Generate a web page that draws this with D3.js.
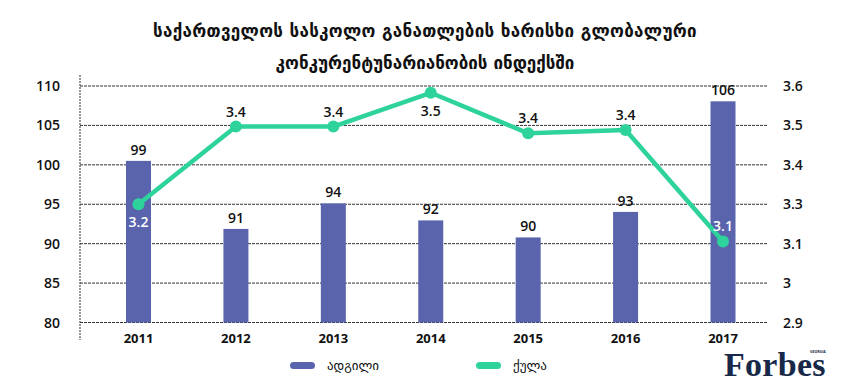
<!DOCTYPE html>
<meta charset="utf-8">
<script src="https://d3js.org/d3.v7.min.js"></script>
<style>
  body { margin: 0; background: #fff; }
  text { font-family: 'Open Sans', 'DejaVu Sans', sans-serif; }
  .geo { font-family: 'DejaVu Sans', sans-serif; }
</style>
<div id="chart"></div>
<script>
  // data
  const years = ["2011", "2012", "2013", "2014", "2015", "2016", "2017"];
  const rank = [99, 91, 94, 92, 90, 93, 106];               // ადგილი (bars)
  const score = [3.25, 3.48, 3.48, 3.58, 3.46, 3.47, 3.14];  // ქულა (line)
  const scoreLabels = ["3.2", "3.4", "3.4", "3.5", "3.4", "3.4", "3.1"];
  const leftTicks = ["110", "105", "100", "95", "90", "85", "80"];
  const rightTicks = ["3.6", "3.5", "3.4", "3.3", "3.1", "3", "2.9"];
  const titleLines = ["საქართველოს სასკოლო განათლების ხარისხი გლობალური",
                      "კონკურენტუნარიანობის ინდექსში"];
  const legendNames = ["ადგილი", "ქულა"];

  const W = 850, H = 387;
  const barColor = "#5a64ad", lineColor = "#2ed39c";
  const plotTop = 86, plotBottom = 322.5, gridX0 = 80, gridX1 = 767;

  const svg = d3.select("#chart").append("svg")
      .attr("width", W).attr("height", H);

  // scales
  const x = d3.scalePoint().domain(years).range([138.5, 723]);
  const yL = d3.scaleLinear().domain([80, 107.8]).range([plotBottom, plotTop]);
  const yR = d3.scaleLinear().domain([2.9, 3.6]).range([plotBottom, plotTop]);
  const grid = d3.scaleLinear().domain([0, 6]).range([plotTop, plotBottom]);

  // title
  svg.append("g").selectAll("text")
    .data(titleLines).enter().append("text")
    .attr("class", "geo")
    .attr("x", 425).attr("y", (d, i) => 37 + i * 32)
    .attr("text-anchor", "middle")
    .style("font-size", "17px").style("font-weight", "bold")
    .style("letter-spacing", (d, i) => i === 0 ? "0.3px" : "0px")
    .attr("fill", "#111")
    .text(d => d);

  // gridlines
  svg.append("g").selectAll("line")
    .data(d3.range(7)).enter().append("line")
    .attr("x1", gridX0).attr("x2", gridX1)
    .attr("y1", d => grid(d)).attr("y2", d => grid(d))
    .attr("stroke", "#333").attr("stroke-width", 1)
    .attr("stroke-dasharray", "3,1");

  svg.append("line")
    .attr("x1", gridX0).attr("x2", gridX0)
    .attr("y1", 75).attr("y2", 340)
    .attr("stroke", "#333").attr("stroke-dasharray", "2,1");

  // left axis labels
  svg.append("g").selectAll("text")
    .data(leftTicks).enter().append("text")
    .attr("x", 60).attr("y", (d, i) => grid(i) + 5)
    .attr("text-anchor", "end")
    .style("font-size", "14px").style("font-weight", 600)
    .attr("fill", "#111")
    .text(d => d);

  // right axis labels
  svg.append("g").selectAll("text")
    .data(rightTicks).enter().append("text")
    .attr("x", 783).attr("y", (d, i) => grid(i) + 5)
    .style("font-size", "14px").style("font-weight", 600)
    .attr("fill", "#111")
    .text(d => d);

  // bars
  const bw = 25;
  svg.append("g").selectAll("rect")
    .data(rank).enter().append("rect")
    .attr("x", (d, i) => x(years[i]) - bw / 2)
    .attr("width", bw)
    .attr("y", d => yL(d))
    .attr("height", d => yL(80) - yL(d))
    .attr("fill", barColor);

  svg.append("g").selectAll("text")
    .data(rank).enter().append("text")
    .attr("x", (d, i) => x(years[i]))
    .attr("y", d => yL(d) - 6)
    .attr("text-anchor", "middle")
    .style("font-size", "14px").style("font-weight", 600)
    .attr("fill", "#111")
    .text(d => d);

  // x labels
  svg.append("g").selectAll("text")
    .data(years).enter().append("text")
    .attr("x", d => x(d)).attr("y", 343)
    .attr("text-anchor", "middle")
    .style("font-size", "13px").style("font-weight", 700)
    .attr("fill", "#111")
    .text(d => d);

  // line
  const line = d3.line()
    .x((d, i) => x(years[i]))
    .y(d => yR(d));

  svg.append("path")
    .datum(score)
    .attr("d", line)
    .attr("fill", "none")
    .attr("stroke", lineColor)
    .attr("stroke-width", 4.5)
    .attr("stroke-linejoin", "round");

  svg.append("g").selectAll("circle")
    .data(score).enter().append("circle")
    .attr("cx", (d, i) => x(years[i]))
    .attr("cy", d => yR(d))
    .attr("r", 6)
    .attr("fill", lineColor);

  // point labels: white when sitting on a bar, below the point for 2011 and 2014
  svg.append("g").selectAll("text")
    .data(score).enter().append("text")
    .attr("x", (d, i) => x(years[i]))
    .attr("y", (d, i) => (i === 0 || i === 3) ? yR(d) + 23 : yR(d) - 10)
    .attr("text-anchor", "middle")
    .style("font-size", "14px").style("font-weight", 600)
    .attr("fill", (d, i) => yR(d) > yL(rank[i]) ? "#fff" : "#111")
    .text((d, i) => scoreLabels[i]);

  // legend
  const leg = svg.append("g");
  [[290, barColor], [476, lineColor]].forEach(([lx, c], i) => {
    leg.append("rect")
      .attr("x", lx).attr("y", 362).attr("width", 25).attr("height", 7)
      .attr("rx", 3.5).attr("fill", c);
    leg.append("text")
      .attr("class", "geo")
      .attr("x", lx + 37).attr("y", 370)
      .style("font-size", "13px")
      .attr("fill", "#111")
      .text(legendNames[i]);
  });

  // logo
  svg.append("text")
    .attr("x", 724).attr("y", 376)
    .style("font-family", "'Liberation Serif', serif")
    .style("font-size", "34px").style("font-weight", "bold")
    .style("letter-spacing", "0.3px")
    .attr("fill", "#182848")
    .text("Forbes");
  svg.append("text")
    .attr("x", 810).attr("y", 353)
    .style("font-size", "3.5px").style("font-weight", "bold")
    .attr("fill", "#182848")
    .text("GEORGIA");
</script>
